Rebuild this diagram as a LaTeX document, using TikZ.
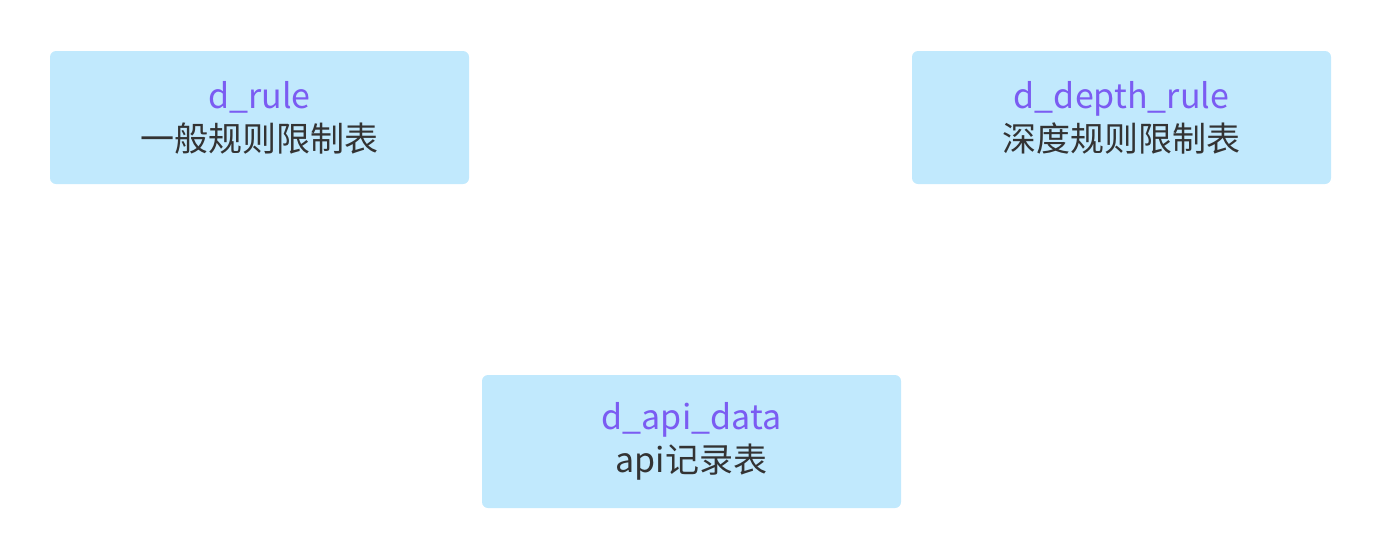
\documentclass[tikz,border=0pt]{standalone}
\usepackage{fontspec}
\setmainfont{Noto Sans CJK SC}
\definecolor{boxfill}{HTML}{C1E9FD}
\definecolor{titlecol}{HTML}{7B5CF2}
\definecolor{bodycol}{HTML}{333333}
\begin{document}
\begin{tikzpicture}[x=1pt,y=-1pt,
  tbl/.style={fill=boxfill,draw=none,rounded corners=6pt,minimum width=419pt,minimum height=133pt,inner sep=0pt,align=center,font=\fontsize{34}{43}\selectfont,text=bodycol}]
\useasboundingbox (0,0) rectangle (1382,558);
\node[tbl] (rule) at (259.5,117.5) {\textcolor{titlecol}{d\_rule}\\一般规则限制表};
\node[tbl] (depth) at (1121.5,117.5) {\textcolor{titlecol}{d\_depth\_rule}\\深度规则限制表};
\node[tbl] (api) at (691.5,441.5) {\textcolor{titlecol}{d\_api\_data}\\api记录表};
\end{tikzpicture}
\end{document}
